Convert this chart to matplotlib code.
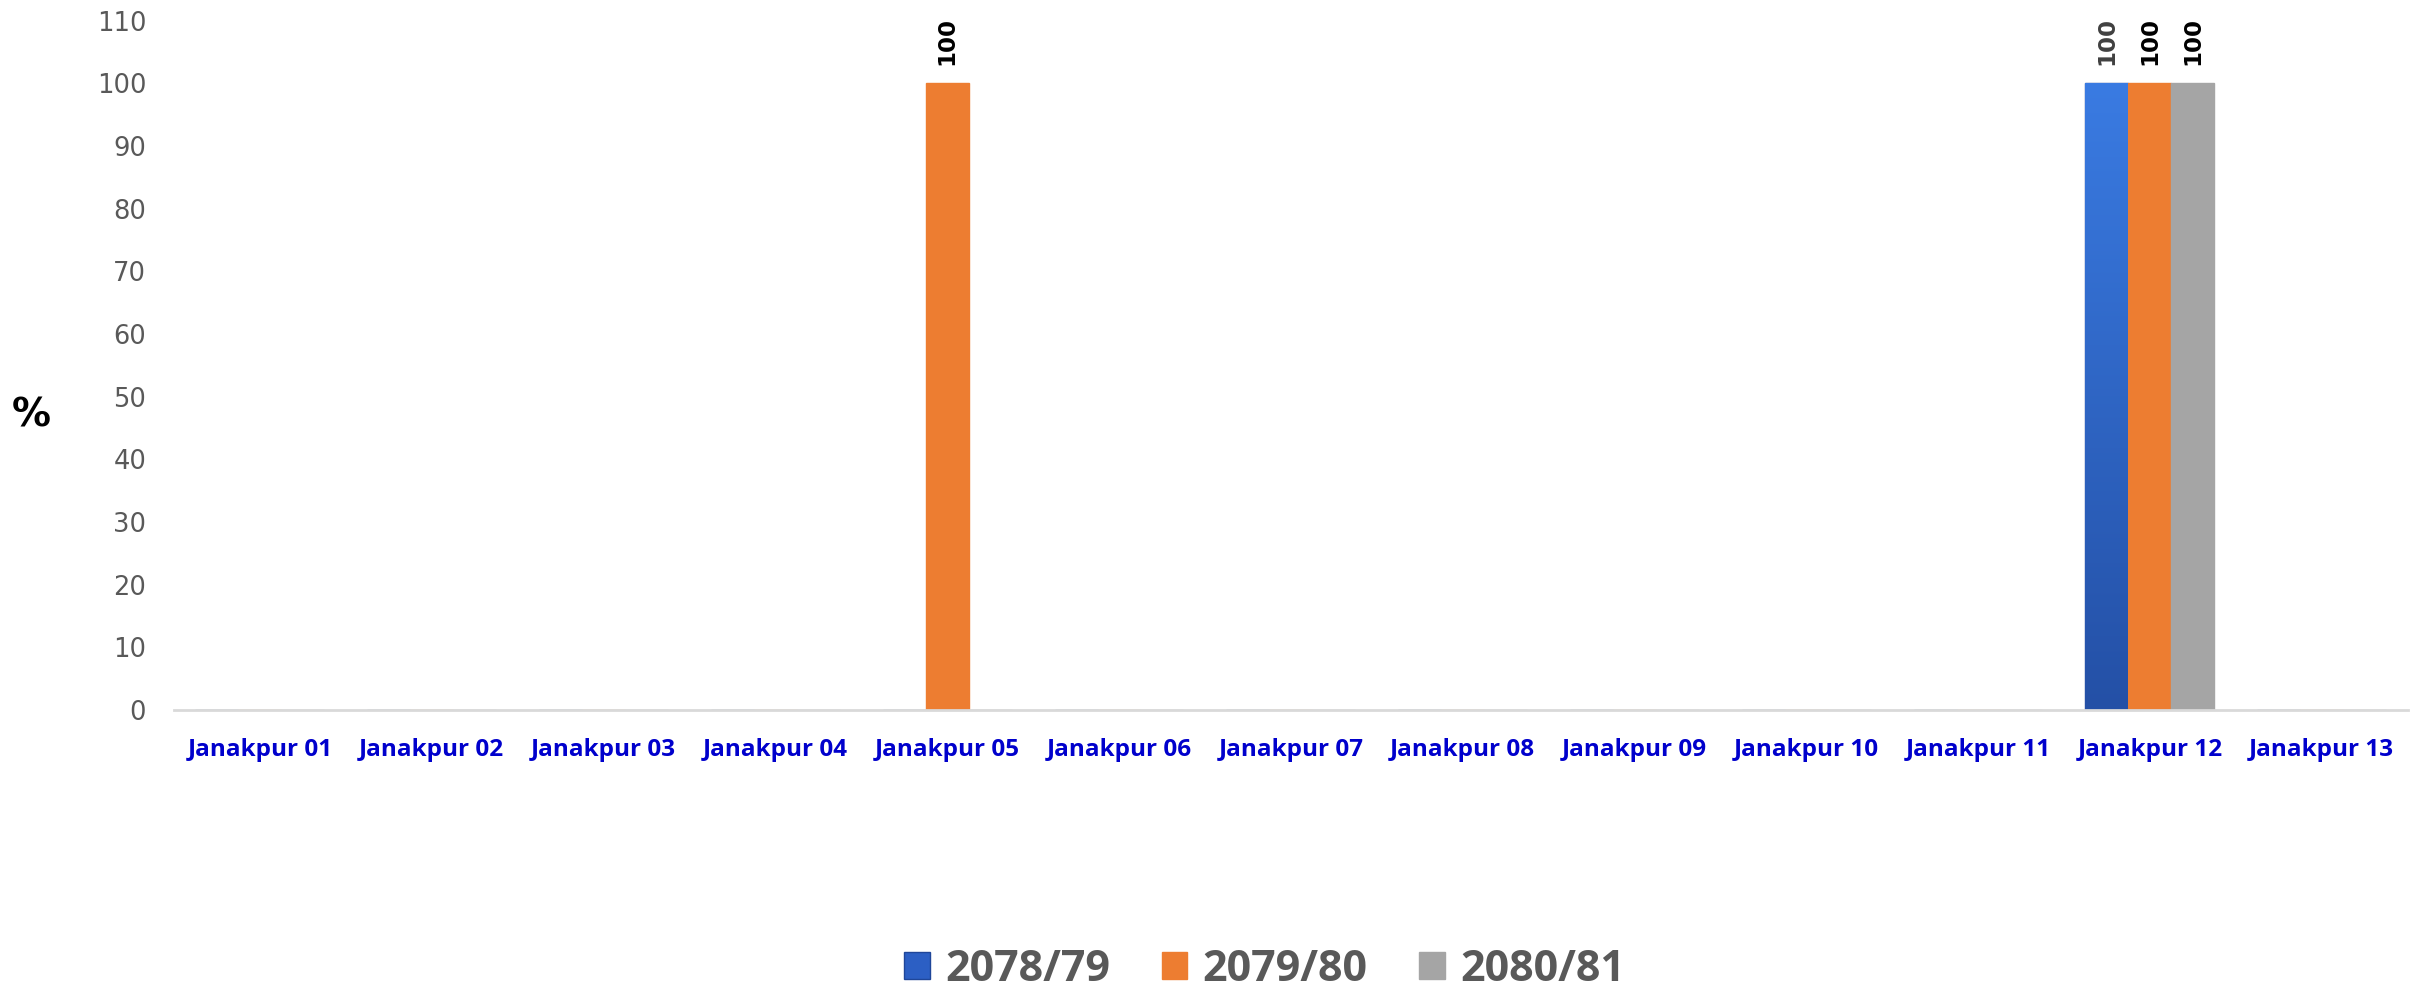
import numpy as np
import matplotlib
matplotlib.use("Agg")
import matplotlib.pyplot as plt
from matplotlib.patches import Patch

# Data
wards = ["Janakpur 01", "Janakpur 02", "Janakpur 03", "Janakpur 04", "Janakpur 05",
         "Janakpur 06", "Janakpur 07", "Janakpur 08", "Janakpur 09", "Janakpur 10",
         "Janakpur 11", "Janakpur 12", "Janakpur 13"]
years = ["2078/79", "2079/80", "2080/81"]
y2078 = [0, 0, 0, 0, 0, 0, 0, 0, 0, 0, 0, 100, 0]
y2079 = [0, 0, 0, 0, 100, 0, 0, 0, 0, 0, 0, 100, 0]
y2080 = [0, 0, 0, 0, 0, 0, 0, 0, 0, 0, 0, 100, 0]

colors = ["#2c5fc4", "#ED7D31", "#A5A5A5"]
edge = ["#1f4699", "#ED7D31", "#A5A5A5"]
label_colors = ["#404040", "black", "black"]

fig = plt.figure(figsize=(24.27, 9.89), dpi=100)
ax = fig.add_axes([0.0717, 0.282, 0.9203, 0.697])

x = np.arange(len(wards))
w = 0.25
series = [y2078, y2079, y2080]
for i, vals in enumerate(series):
    pos = x + (i - 1) * w
    bars = ax.bar(pos, vals, width=w, color=colors[i], edgecolor=edge[i], linewidth=1)
    # blue series has a light-to-dark vertical gradient
    if i == 0:
        grad = np.linspace(1, 0, 256).reshape(-1, 1)
        cmap = matplotlib.colors.LinearSegmentedColormap.from_list("b", ["#2450a6", "#3a7be2"])
        for b in bars:
            if b.get_height() > 0:
                im = ax.imshow(grad, cmap=cmap, aspect="auto", zorder=b.get_zorder() + 0.1,
                               extent=[b.get_x(), b.get_x() + b.get_width(), 0, b.get_height()])
                im.set_clip_path(b)
    for b, v in zip(bars, vals):
        if v > 0:
            ax.text(b.get_x() + b.get_width() / 2, v + 3, f"{v}", rotation=90,
                    ha="center", va="bottom", fontsize=16.5, fontweight="bold",
                    color=label_colors[i])

ax.set_xlim(-0.5, len(wards) - 0.5)
ax.set_ylim(0, 110)
ax.set_yticks(range(0, 111, 10))
ax.set_xticks(x)
ax.set_xticklabels(wards, fontsize=17.5, fontweight="bold", color="#0000CC",
                   family="Open Sans")
ax.tick_params(axis="y", labelsize=18.5, colors="#595959", length=0, pad=20)
ax.tick_params(axis="x", length=0, pad=20)

for s in ["top", "right", "left"]:
    ax.spines[s].set_visible(False)
ax.spines["bottom"].set_color("#d9d9d9")
ax.spines["bottom"].set_linewidth(2)

fig.text(0.005, 0.58, "%", fontsize=28, fontweight="bold", ha="left", va="center")

handles = [Patch(facecolor=colors[i], edgecolor=edge[i]) for i in range(3)]
fig.legend(handles, years, loc="center", bbox_to_anchor=(0.521, 0.02),
           ncol=3, frameon=False, prop={"size": 31, "weight": "bold", "family": "Open Sans"},
           labelcolor="#595959", handlelength=0.6, handleheight=0.6,
           handletextpad=0.35, columnspacing=1.2)

fig.savefig("out.png", dpi=100)
